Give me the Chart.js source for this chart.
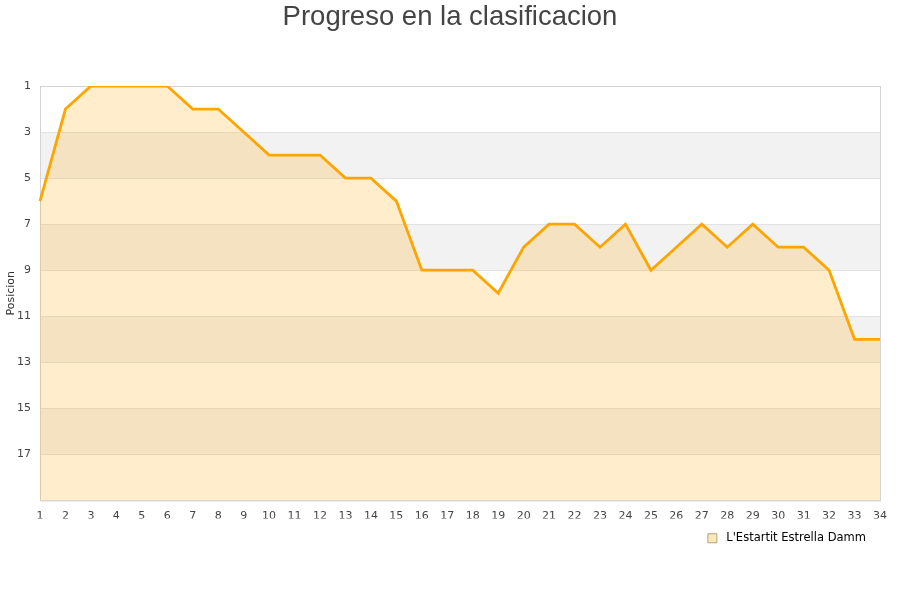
<!DOCTYPE html>
<html>
<head>
<meta charset="utf-8">
<script src="https://cdn.jsdelivr.net/npm/chart.js@4"></script>
<style>
  html, body { margin: 0; padding: 0; background: #fff; }
  #wrap { width: 900px; height: 600px; }
</style>
</head>
<body>
<div id="wrap"><canvas id="chart" width="900" height="600"></canvas></div>
<script>
var jornadas = [];
for (let j = 1; j <= 34; j++) jornadas.push(String(j));
var posiciones = [6, 2, 1, 1, 1, 1, 2, 2, 3, 4, 4, 4, 5, 5, 6, 9, 9, 9, 10, 8,
                  7, 7, 8, 7, 9, 8, 7, 8, 7, 8, 8, 9, 12, 12];
var equipo = "L'Estartit Estrella Damm";
var bandas = [[3, 5], [7, 9], [11, 13], [15, 17]];

var tickFont = { family: "DejaVu Sans", size: 11 };

// gray bands behind the area
var bandPlugin = {
    id: "bands",
    beforeDraw: function (chart) {
        let ctx = chart.ctx;
        let area = chart.chartArea;
        let y = chart.scales.y;
        ctx.save();
        ctx.fillStyle = "#f2f2f2";
        bandas.forEach(function (b) {
            let top = y.getPixelForValue(b[0]);
            let bottom = y.getPixelForValue(b[1]);
            ctx.fillRect(area.left, top, area.right - area.left, bottom - top);
        });
        ctx.restore();
    },
    beforeDatasetsDraw: function (chart) {
        let ctx = chart.ctx;
        let area = chart.chartArea;
        ctx.save();
        ctx.strokeStyle = "#d4d4d4";
        ctx.lineWidth = 1;
        ctx.strokeRect(area.left + 0.5, area.top + 0.5, area.right - area.left, area.bottom - area.top);
        ctx.restore();
    }
};

new Chart(document.getElementById("chart").getContext("2d"), {
    type: "line",
    data: {
        labels: jornadas,
        datasets: [
            {
                label: equipo,
                data: posiciones,
                borderColor: "#ffa500",
                backgroundColor: "rgba(255, 165, 0, 0.2)",
                borderWidth: 2.8,
                fill: "start",
                tension: 0,
                pointRadius: 0,
                pointHoverRadius: 0
            }
        ]
    },
    options: {
        responsive: false,
        animation: false,
        layout: {
            padding: { top: 0, right: 20, bottom: 46, left: 0 }
        },
        plugins: {
            title: {
                display: true,
                text: "Progreso en la clasificacion",
                color: "#444",
                font: { family: "Liberation Sans", size: 27.5, weight: "normal" },
                padding: { top: 1, bottom: 52 }
            },
            legend: {
                position: "bottom",
                align: "end",
                labels: {
                    boxWidth: 9,
                    boxHeight: 9,
                    padding: 14,
                    color: "#222",
                    font: { family: "DejaVu Sans", size: 11.5 },
                    generateLabels: function (chart) {
                        return [{
                            text: " " + equipo,
                            fillStyle: "#ffe8b8",
                            strokeStyle: "#b0a080",
                            lineWidth: 1,
                            datasetIndex: 0
                        }];
                    }
                }
            },
            tooltip: { enabled: false }
        },
        scales: {
            x: {
                offset: false,
                grid: { display: false },
                border: { display: false },
                ticks: {
                    color: "#444",
                    font: tickFont,
                    maxRotation: 0,
                    autoSkip: false,
                    padding: 1
                },
                afterFit: function (scale) { scale.height = 18; }
            },
            y: {
                reverse: true,
                min: 1,
                max: 19,
                grid: { color: "#e2e2e2", drawTicks: false },
                border: { display: false },
                title: {
                    display: true,
                    text: "Posicion",
                    color: "#333",
                    font: { family: "DejaVu Sans", size: 11 },
                    padding: 5
                },
                ticks: {
                    stepSize: 2,
                    color: "#444",
                    font: tickFont,
                    padding: 9,
                    callback: function (v) { return v === 19 ? "" : v; }
                },
                afterFit: function (scale) { scale.width = 40; }
            }
        }
    },
    plugins: [bandPlugin, {
        // center the title over the whole canvas, like the original
        id: "titleCenter",
        afterLayout: function (chart) {
            let t = chart.titleBlock;
            if (t) {
                t.left = 0;
                t.right = chart.width;
                t.width = chart.width;
            }
        }
    }]
});
</script>
</body>
</html>
